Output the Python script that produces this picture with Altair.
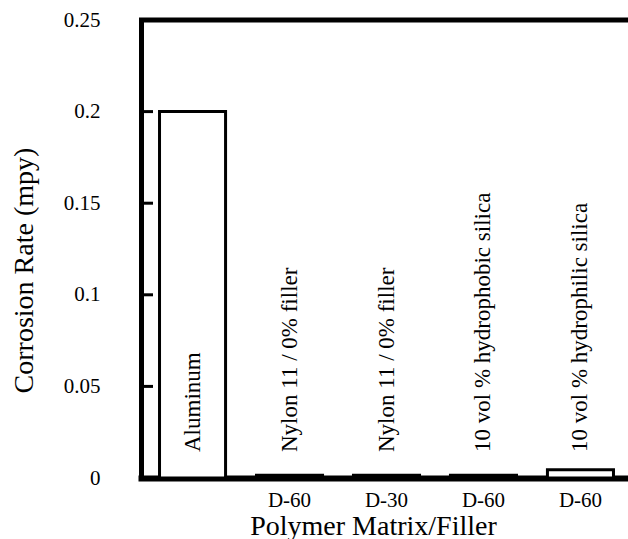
import json
import altair as alt
import pandas as pd

# ---- data ----
bar_index = [0, 1, 2, 3, 4]
corrosion_rate = [0.2, 0.0015, 0.0015, 0.0015, 0.0045]
bar_text = [
    "Aluminum",
    "Nylon 11 / 0% filler",
    "Nylon 11 / 0% filler",
    "10 vol % hydrophobic silica",
    "10 vol % hydrophilic silica",
]
x_tick_labels = ["", "D-60", "D-30", "D-60", "D-60"]
y_tick_values = [0, 0.05, 0.1, 0.15, 0.2, 0.25]
inner_ticks = [0.05, 0.1, 0.15, 0.2]

FONT = "Liberation Serif, Times New Roman, serif"
W, H = 487, 458

df = pd.DataFrame({"idx": bar_index, "value": corrosion_rate, "label": bar_text})
df_ticks = pd.DataFrame({"value": inner_ticks})

label_expr = json.dumps(x_tick_labels) + "[datum.value]"

x_enc = alt.X(
    "idx:O",
    scale=alt.Scale(paddingInner=0.319, paddingOuter=0.191, range=[0, 491]),
    axis=alt.Axis(
        title="Polymer Matrix/Filler",
        labelExpr=label_expr,
        labelAngle=0,
        labelFont=FONT,
        labelFontSize=21,
        labelColor="black",
        labelPadding=11,
        ticks=True,
        tickSize=0,
        domainColor="black",
        domainWidth=6,
        domainCap="square",
        titleFont=FONT,
        titleFontSize=28,
        titleFontWeight="normal",
        titleColor="black",
        titleX=232,
        titleY=34,
        titleBaseline="top",
        grid=False,
    ),
)

y_enc = alt.Y(
    "value:Q",
    scale=alt.Scale(domain=[0, 0.25], nice=False, zero=True),
    axis=alt.Axis(
        title="Corrosion Rate (mpy)",
        values=y_tick_values,
        format="~g",
        labelFont=FONT,
        labelFontSize=21,
        labelColor="black",
        labelPadding=41,
        ticks=True,
        tickSize=0,
        domainColor="black",
        domainWidth=5,
        domainCap="square",
        titleFont=FONT,
        titleFontSize=28,
        titleFontWeight="normal",
        titleColor="black",
        titleX=-117,
        titleY=250,
        titleBaseline="middle",
        grid=False,
    ),
)

bars = alt.Chart(df).mark_bar(fill="white", stroke="black", strokeWidth=3).encode(
    x=x_enc, y=y_enc
)

texts = alt.Chart(df).mark_text(
    angle=270, align="left", baseline="middle", font=FONT, fontSize=23, color="black"
).encode(x=alt.X("idx:O"), y=alt.value(432), text="label:N")

ticks = alt.Chart(df_ticks).mark_rule(color="black", strokeWidth=3).encode(
    y=alt.Y("value:Q"), x=alt.value(0), x2=alt.value(12)
)

top_line = alt.Chart(alt.Data(values=[{}])).mark_rule(
    color="black", strokeWidth=5
).encode(y=alt.value(0), x=alt.value(-2), x2=alt.value(W + 5))

chart = (
    alt.layer(bars, texts, ticks, top_line)
    .properties(
        width=W,
        height=H,
        autosize=alt.AutoSizeParams(type="none"),
        padding={"left": 141, "top": 20, "right": 0, "bottom": 61},
        background="white",
    )
    .configure_view(stroke=None)
)

chart.save("out.html", embed_options={"renderer": "svg", "actions": False})
